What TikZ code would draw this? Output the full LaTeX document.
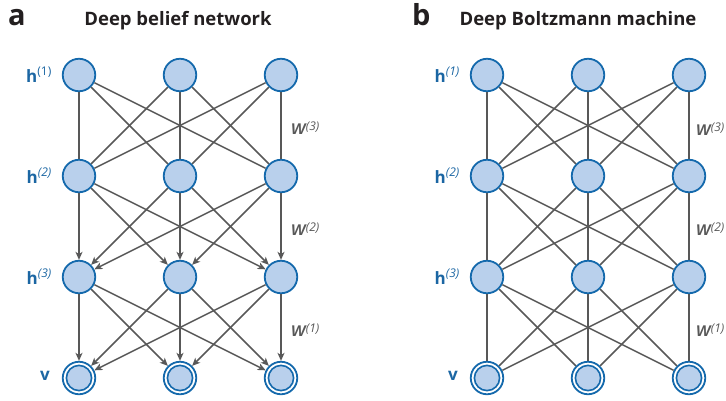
\documentclass[tikz,border=0pt]{standalone}
\usepackage{fontspec}
\setmainfont{Open Sans}
\newfontfamily\wfont{Liberation Sans Bold Italic}
\usetikzlibrary{arrows.meta}
\definecolor{nodefill}{HTML}{B9D0EC}
\definecolor{nodeline}{HTML}{1469AC}
\definecolor{edgegray}{HTML}{585858}
\definecolor{labblue}{HTML}{1B66A3}
\definecolor{titlecol}{HTML}{231F20}
\tikzset{
  unit/.style={circle, draw=nodeline, fill=nodefill, line width=1.8pt, minimum size=32.5pt, inner sep=0pt},
  visunit/.style={circle, draw=nodeline, fill=white, line width=1.8pt, minimum size=32.5pt, inner sep=0pt,
    path picture={\draw[draw=nodeline, fill=nodefill, line width=1.6pt] (path picture bounding box.center) circle (12.6pt);}},
  edge/.style={draw=edgegray, line width=1.5pt},
  darrow/.style={edge, -{Stealth[length=8pt,width=7pt,inset=2.2pt]}},
  hlab/.style={anchor=base east, text=labblue, font=\fontsize{17}{20}\selectfont\bfseries, inner sep=0pt},
  wlab/.style={anchor=base west, text=edgegray, inner sep=0pt},
  ttl/.style={anchor=base, text=titlecol, font=\fontsize{18.5}{20}\selectfont\bfseries, inner sep=0pt},
  letter/.style={anchor=base west, text=titlecol, font=\fontsize{29}{32}\selectfont\bfseries, inner sep=0pt}
}
\newcommand{\supr}[1]{\textsuperscript{\normalfont\fontsize{12}{14}\selectfont #1}}
\newcommand{\supi}[1]{\textsuperscript{\normalfont\itshape\fontsize{12}{14}\selectfont #1}}
\newcommand{\wsym}{{\wfont\fontsize{15.5}{16}\selectfont W}}
\begin{document}
\begin{tikzpicture}[x=1pt,y=-1pt]
\useasboundingbox (0,0) rectangle (726,400);
% titles
\node[letter] (la) at (8,25) {a};
\node[ttl] (ta) at (178,25) {Deep belief network};
\node[letter] (lb) at (412,25) {b};
\node[ttl] (tb) at (578,25) {Deep Boltzmann machine};
% ---------- panel a ----------
\foreach \r/\y in {1/75,2/176,3/277}{
  \foreach \c/\x in {1/79,2/180,3/281}{
    \node[unit] (a\r\c) at (\x,\y) {};
  }
}
\foreach \c/\x in {1/79,2/180,3/281}{
  \node[visunit] (a4\c) at (\x,378) {};
}
\foreach \i in {1,2,3}{
  \foreach \j in {1,2,3}{
    \draw[edge] (a1\i) -- (a2\j);
    \draw[darrow] (a2\i) -- (a3\j);
    \draw[darrow] (a3\i) -- (a4\j);
  }
}
\node[hlab] (ha1) at (52,82) {h\supr{(1)}};
\node[hlab] (ha2) at (52,183) {h\supi{(2)}};
\node[hlab] (ha3) at (52,284) {h\supi{(3)}};
\node[hlab] (hav) at (50,380) {v};
\node[wlab] (wa3) at (291,134) {\wsym\supi{(3)}};
\node[wlab] (wa2) at (291,235) {\wsym\supi{(2)}};
\node[wlab] (wa1) at (291,336) {\wsym\supi{(1)}};
% ---------- panel b ----------
\foreach \r/\y in {1/75,2/176,3/277}{
  \foreach \c/\x in {1/487,2/588,3/689}{
    \node[unit] (b\r\c) at (\x,\y) {};
  }
}
\foreach \c/\x in {1/487,2/588,3/689}{
  \node[visunit] (b4\c) at (\x,378) {};
}
\foreach \i in {1,2,3}{
  \foreach \j in {1,2,3}{
    \draw[edge] (b1\i) -- (b2\j);
    \draw[edge] (b2\i) -- (b3\j);
    \draw[edge] (b3\i) -- (b4\j);
  }
}
\node[hlab] (hb1) at (460,82) {h\supi{(1)}};
\node[hlab] (hb2) at (460,183) {h\supi{(2)}};
\node[hlab] (hb3) at (460,284) {h\supi{(3)}};
\node[hlab] (hbv) at (458,380) {v};
\node[wlab] (wb3) at (696,135) {\wsym\supi{(3)}};
\node[wlab] (wb2) at (696,235) {\wsym\supi{(2)}};
\node[wlab] (wb1) at (696,336) {\wsym\supi{(1)}};
\end{tikzpicture}
\end{document}
